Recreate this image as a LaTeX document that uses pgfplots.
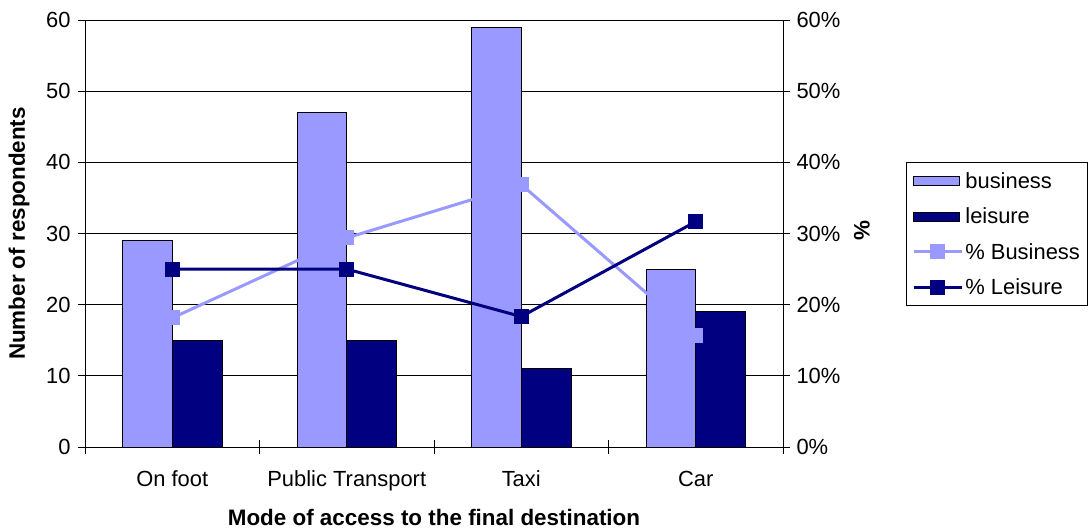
\documentclass[border=0pt]{standalone}
\usepackage{pgfplots}
\pgfplotsset{compat=1.18}
\usepackage{fontspec}
\setmainfont{Liberation Sans}

\definecolor{busi}{HTML}{9999FF}
\definecolor{leis}{HTML}{000080}
\newcommand\chartfont{\fontsize{22}{26}\selectfont}

\pgfplotsset{
  base/.style={
    scale only axis, width=698bp, height=427bp,
    xmin=-0.5, xmax=3.5, ymin=0, ymax=60,
    axis line style={-, black, line width=0.8bp},
    tick style={black, line width=0.8bp},
    tick align=center, major tick length=14bp,
    ytick={0,10,...,60},
    tick label style={font=\chartfont},
    /pgf/number format/assume math mode=true,
    label style={font=\fontsize{22.5}{26}\selectfont\bfseries},
  },
  barlegend/.style={legend image code/.code={
    \draw[fill=#1, draw=black, line width=0.8bp] (0bp,-4.5bp) rectangle (46bp,4.5bp);}},
  linelegend/.style={legend image code/.code={
    \draw[##1] (0bp,0bp) -- (48bp,0bp);
    \draw[##1, mark repeat=2, mark phase=2] plot coordinates {(0bp,0bp) (24bp,0bp) (48bp,0bp)};}},
}

\begin{document}
\begin{tikzpicture}
\path[use as bounding box, fill=white] (-85bp,-85bp) rectangle (1005bp,447bp);

% respondents per mode of access (left axis)
\begin{axis}[base,
  axis x line*=bottom, axis y line*=left,
  yticklabel style={xshift=-4bp},
  xtick={-0.5,0.5,1.5,2.5,3.5}, xticklabels={},
  extra x ticks={0,1,2,3},
  extra x tick labels={On foot, Public Transport, Taxi, Car},
  extra x tick style={major tick length=0bp, xticklabel style={anchor=base, yshift=-39bp}},
  ymajorgrids, major grid style={black, line width=0.8bp},
  xlabel={Mode of access to the final destination},
  xlabel style={at={(axis description cs:0.5,-0.1827)}, anchor=base},
  ylabel={Number of respondents},
  ylabel style={at={(axis description cs:-0.0946,0.5)}, anchor=center},
]
\addplot[ybar, bar width=0.285, bar shift=-0.1425, fill=busi, draw=black, line width=0.8bp]
  coordinates {(0,29) (1,47) (2,59) (3,25)};
\addplot[ybar, bar width=0.285, bar shift=0.1425, fill=leis, draw=black, line width=0.8bp]
  coordinates {(0,15) (1,15) (2,11) (3,19)};
\end{axis}

% shares of each group (right axis)
\begin{axis}[base,
  axis x line=none, axis y line*=right,
  yticklabel={\pgfmathprintnumber{\tick}\%},
  yticklabel style={xshift=3bp},
  ylabel={\%},
  ylabel style={at={(axis description cs:1.113,0.506)}, anchor=center},
  legend style={at={(axis description cs:1.1762,0.6674)}, anchor=north west,
    draw=black, line width=0.8bp, font=\chartfont, row sep=14bp,
    inner xsep=6bp, inner ysep=8bp},
  legend cell align=left,
]
\addlegendimage{barlegend=busi}
\addlegendentry{business}
\addlegendimage{barlegend=leis}
\addlegendentry{leisure}
\addplot[busi, line width=3bp, mark=square*, mark size=7bp,
  mark options={solid, fill=busi, line width=1bp}, linelegend]
  coordinates {(0,18.13) (1,29.38) (2,36.88) (3,15.63)};
\addlegendentry{\% Business}
\addplot[leis, line width=3bp, mark=square*, mark size=7bp,
  mark options={solid, fill=leis, line width=1bp}, linelegend]
  coordinates {(0,25) (1,25) (2,18.33) (3,31.67)};
\addlegendentry{\% Leisure}
\end{axis}
\end{tikzpicture}
\end{document}
